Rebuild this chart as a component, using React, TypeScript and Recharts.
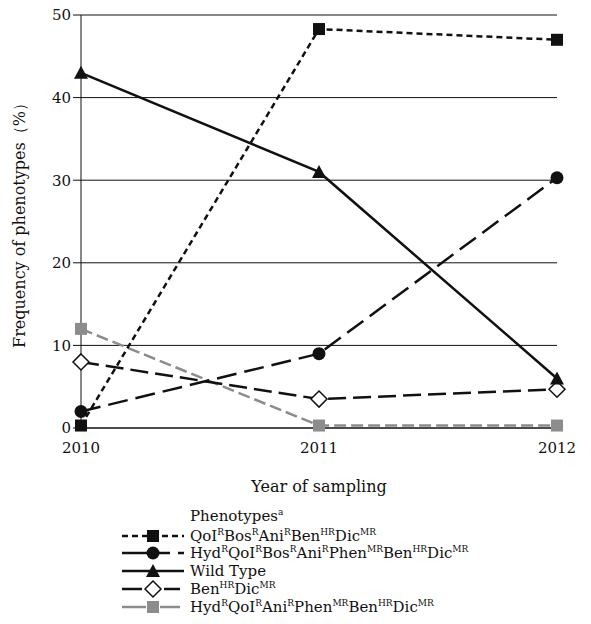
import { LineChart, Line, XAxis, YAxis, CartesianGrid, Label } from "recharts";

// values in % per sampling year
const years = ["2010", "2011", "2012"];
const qoiBosAniBenDic = [0.3, 48.3, 47];
const hydQoiBosAniPhenBenDic = [2, 9, 30.3];
const wildType = [43, 31, 6];
const benDic = [8, 3.5, 4.7];
const hydQoiAniPhenBenDic = [12, 0.3, 0.3];
const yTicks = [0, 10, 20, 30, 40, 50];

const FONT = "'DejaVu Serif', serif";
const GRAY = "#8c8c8c";

const data = years.map((y, i) => ({
  year: y,
  s1: qoiBosAniBenDic[i],
  s2: hydQoiBosAniPhenBenDic[i],
  s3: wildType[i],
  s4: benDic[i],
  s5: hydQoiAniPhenBenDic[i],
}));

type Seg = [string, string?];
const LEGEND: { label: Seg[]; dash?: string; color: string; marker: string }[] = [
  { label: [["QoI", "R"], ["Bos", "R"], ["Ani", "R"], ["Ben", "HR"], ["Dic", "MR"]], dash: "6 4", color: "#111", marker: "square" },
  { label: [["Hyd", "R"], ["QoI", "R"], ["Bos", "R"], ["Ani", "R"], ["Phen", "MR"], ["Ben", "HR"], ["Dic", "MR"]], dash: "48 8 6", color: "#111", marker: "circle" },
  { label: [["Wild Type"]], color: "#111", marker: "triangle" },
  { label: [["Ben", "HR"], ["Dic", "MR"]], dash: "20 22 16", color: "#111", marker: "diamond" },
  { label: [["Hyd", "R"], ["QoI", "R"], ["Ani", "R"], ["Phen", "MR"], ["Ben", "HR"], ["Dic", "MR"]], dash: "24 14 20", color: GRAY, marker: "graySquare" },
];

function Marker({ kind, cx, cy }: { kind: string; cx: number; cy: number }) {
  if (kind === "square") return <rect x={cx - 6} y={cy - 6} width={12} height={12} fill="#111" />;
  if (kind === "graySquare") return <rect x={cx - 6} y={cy - 6} width={12} height={12} fill={GRAY} />;
  if (kind === "circle") return <circle cx={cx} cy={cy} r={6.5} fill="#111" />;
  if (kind === "triangle")
    return <polygon points={`${cx},${cy - 7} ${cx + 7},${cy + 6} ${cx - 7},${cy + 6}`} fill="#111" />;
  return (
    <polygon
      points={`${cx},${cy - 8} ${cx + 8},${cy} ${cx},${cy + 8} ${cx - 8},${cy}`}
      fill="#fff"
      stroke="#111"
      strokeWidth={1.5}
    />
  );
}

const dotOf = (kind: string) => (p: any) =>
  <Marker key={`${kind}-${p.index}`} kind={kind} cx={p.cx} cy={p.cy} />;

function LabelText({ segs, x, y }: { segs: Seg[]; x: number; y: number }) {
  const parts: any[] = [];
  segs.forEach(([t, sup], i) => {
    parts.push(
      <tspan key={`t${i}`} dy={i > 0 && segs[i - 1][1] ? 6 : 0}>{t}</tspan>
    );
    if (sup) parts.push(<tspan key={`s${i}`} dy={-6} fontSize={9}>{sup}</tspan>);
  });
  return (
    <text x={x} y={y} fontFamily={FONT} fontSize={15} fill="#111">
      {parts}
    </text>
  );
}

function PhenotypeLegend() {
  const rowY = [66, 83, 101, 119, 137];
  return (
    <svg width={591} height={154} style={{ position: "absolute", left: 0, top: 470 }}>
      <text x={190} y={51} fontFamily={FONT} fontSize={15} fill="#111">
        Phenotypes<tspan dy={-6} fontSize={9}>a</tspan>
      </text>
      {LEGEND.map((e, i) => (
        <g key={i}>
          <line x1={122} x2={184} y1={rowY[i]} y2={rowY[i]} stroke={e.color} strokeWidth={2.5} strokeDasharray={e.dash} />
          <Marker kind={e.marker} cx={153} cy={rowY[i]} />
          <LabelText segs={e.label} x={190} y={rowY[i] + 5} />
        </g>
      ))}
    </svg>
  );
}

export default function App() {
  return (
    <div style={{ position: "absolute", left: 0, top: 0, width: 591, height: 624, background: "#fff" }}>
      <LineChart width={591} height={500} data={data} margin={{ top: 15, right: 34, left: 15, bottom: 0 }}>
        <CartesianGrid vertical={false} stroke="#111" strokeWidth={1} />
        <XAxis
          dataKey="year"
          axisLine={{ stroke: "#111" }}
          tickLine={false}
          tick={{ fill: "#111", fontSize: 15, fontFamily: FONT, dy: 6 }}
          height={72}
        >
          <Label value="Year of sampling" position="insideBottom" offset={8} fill="#111" fontSize={16} fontFamily={FONT} />
        </XAxis>
        <YAxis
          domain={[0, 50]}
          ticks={yTicks}
          axisLine={{ stroke: "#111" }}
          tickLine={{ stroke: "#111" }}
          tickSize={8}
          tick={{ fill: "#111", fontSize: 15, fontFamily: FONT }}
          width={66}
        >
          <Label value="Frequency of phenotypes（%）" angle={-90} position="insideLeft" offset={4} fill="#111" fontSize={16} fontFamily={FONT} style={{ textAnchor: "middle" }} />
        </YAxis>
        <Line dataKey="s5" stroke={GRAY} strokeWidth={2.5} strokeDasharray="12 5" dot={dotOf("graySquare")} isAnimationActive={false} />
        <Line dataKey="s4" stroke="#111" strokeWidth={2.5} strokeDasharray="18 7" dot={dotOf("diamond")} isAnimationActive={false} />
        <Line dataKey="s3" stroke="#111" strokeWidth={2.5} dot={dotOf("triangle")} isAnimationActive={false} />
        <Line dataKey="s2" stroke="#111" strokeWidth={2.5} strokeDasharray="20 8" dot={dotOf("circle")} isAnimationActive={false} />
        <Line dataKey="s1" stroke="#111" strokeWidth={2.5} strokeDasharray="6 4" dot={dotOf("square")} isAnimationActive={false} />
      </LineChart>
      <PhenotypeLegend />
    </div>
  );
}
